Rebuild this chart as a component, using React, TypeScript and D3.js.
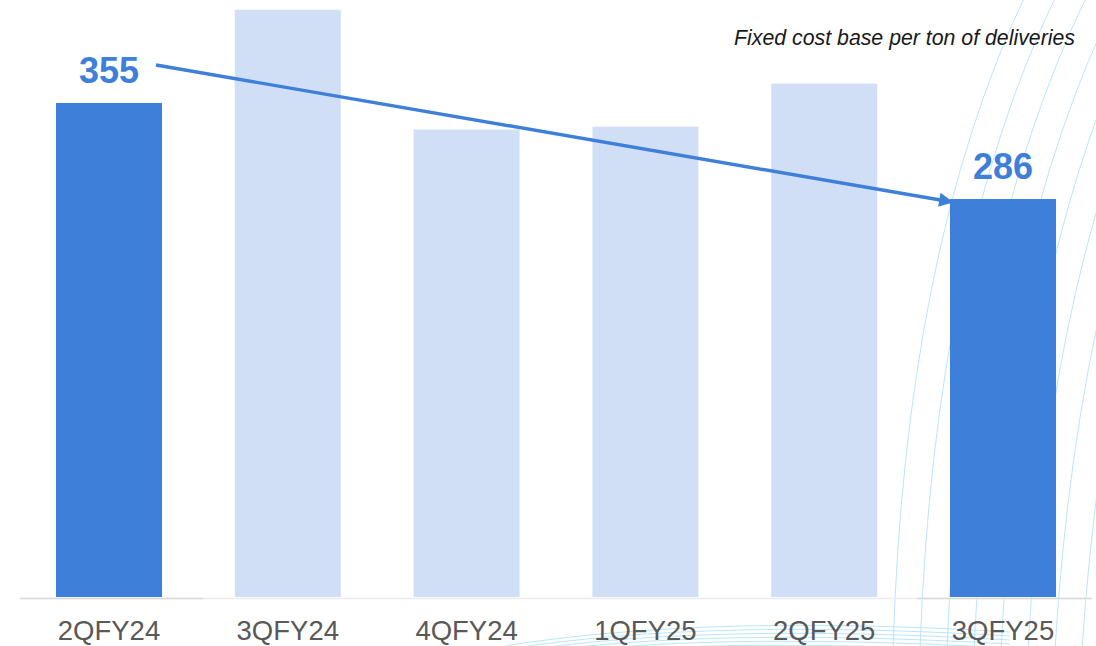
import React from 'react';
import * as d3 from 'd3';

// Fixed cost base per ton of deliveries, by quarter
const quarters = ['2QFY24', '3QFY24', '4QFY24', '1QFY25', '2QFY25', '3QFY25'];
const costPerTon = [355, 422, 336, 338, 369, 286];
const highlighted = [true, false, false, false, false, true];
const title = 'Fixed cost base per ton of deliveries';

// background swirl decoration (offsets only)
const fanOffsets = [0, 1, 2, 3, 4, 5, 6, 7];
const arcOffsets = [0, 1, 2, 3, 4, 5];

const W = 1096;
const H = 646;
const DARK = '#3d7fd9';
const LIGHT = '#d0dff5';
const DECO = '#a9def6';
const FONT = 'Liberation Sans, Arial, sans-serif';

export default function App() {
  const x = d3.scaleBand<string>()
    .domain(quarters)
    .range([19.6, 1092.4])
    .paddingInner(0.407)
    .paddingOuter(0.2035);
  const y = d3.scaleLinear().domain([0, 355]).range([597, 103]);
  const bw = x.bandwidth();

  const first = quarters[0];
  const last = quarters[quarters.length - 1];
  const x0 = (x(first) ?? 0) + bw - 6;
  const y0 = y(costPerTon[0]) - 38;
  const x1 = (x(last) ?? 0) + 2;
  const y1 = y(costPerTon[costPerTon.length - 1]) + 3;

  const fanPath = (i: number) => {
    const p = d3.path();
    p.moveTo(893 + i * 27, 650);
    p.quadraticCurveTo(905 + i * 29, 250, 1025 + i * 31, -4);
    return p.toString();
  };
  const arcPath = (i: number) => {
    const p = d3.path();
    p.moveTo(470 + i * 10, 652 + i * 2);
    p.quadraticCurveTo(680, 612 + i * 4.5, 1010, 632 + i * 4);
    return p.toString();
  };

  return (
    <svg width={W} height={H} style={{ position: 'absolute', left: 0, top: 0, background: '#fff' }}>
      <defs>
        <marker id="arrowhead" viewBox="0 0 10 10" refX="9" refY="5" markerWidth="4.4" markerHeight="4.2"
          orient="auto" markerUnits="strokeWidth">
          <path d="M0,0 L10,5 L0,10 z" fill={DARK} />
        </marker>
        <clipPath id="clip"><rect x={0} y={0} width={W} height={H} /></clipPath>
      </defs>

      <g clipPath="url(#clip)" fill="none" stroke={DECO} strokeWidth={0.8}>
        {fanOffsets.map(i => <path key={'f' + i} d={fanPath(i)} />)}
        {arcOffsets.map(i => <path key={'a' + i} d={arcPath(i)} />)}
      </g>

      {/* axis baseline */}
      <line x1={20} x2={1092} y1={598.5} y2={598.5} stroke="#ececec" strokeWidth={1.5} />
      <line x1={20} x2={203} y1={598.5} y2={598.5} stroke="#d9d9d9" strokeWidth={1.5} />
      <line x1={917} x2={1092} y1={598.5} y2={598.5} stroke="#d9d9d9" strokeWidth={1.5} />

      {quarters.map((q, i) => (
        <rect key={q} x={x(q)} y={y(costPerTon[i])} width={bw} height={y(0) - y(costPerTon[i])}
          fill={highlighted[i] ? DARK : LIGHT} />
      ))}

      {quarters.map((q, i) => highlighted[i] && (
        <text key={'v' + q} x={(x(q) ?? 0) + bw / 2} y={y(costPerTon[i]) - 20} textAnchor="middle"
          fontFamily={FONT} fontWeight="bold" fontSize={36} fill={DARK}>
          {costPerTon[i]}
        </text>
      ))}

      <line x1={x0} y1={y0} x2={x1} y2={y1} stroke={DARK} strokeWidth={3.4} markerEnd="url(#arrowhead)" />

      {quarters.map(q => (
        <text key={'t' + q} x={(x(q) ?? 0) + bw / 2} y={640} textAnchor="middle"
          fontFamily={FONT} fontSize={27.5} fill="#595959">
          {q}
        </text>
      ))}

      <text x={1075} y={45} textAnchor="end" fontFamily={FONT} fontStyle="italic" fontSize={21.3} fill="#1a1a1a">
        {title}
      </text>
    </svg>
  );
}
